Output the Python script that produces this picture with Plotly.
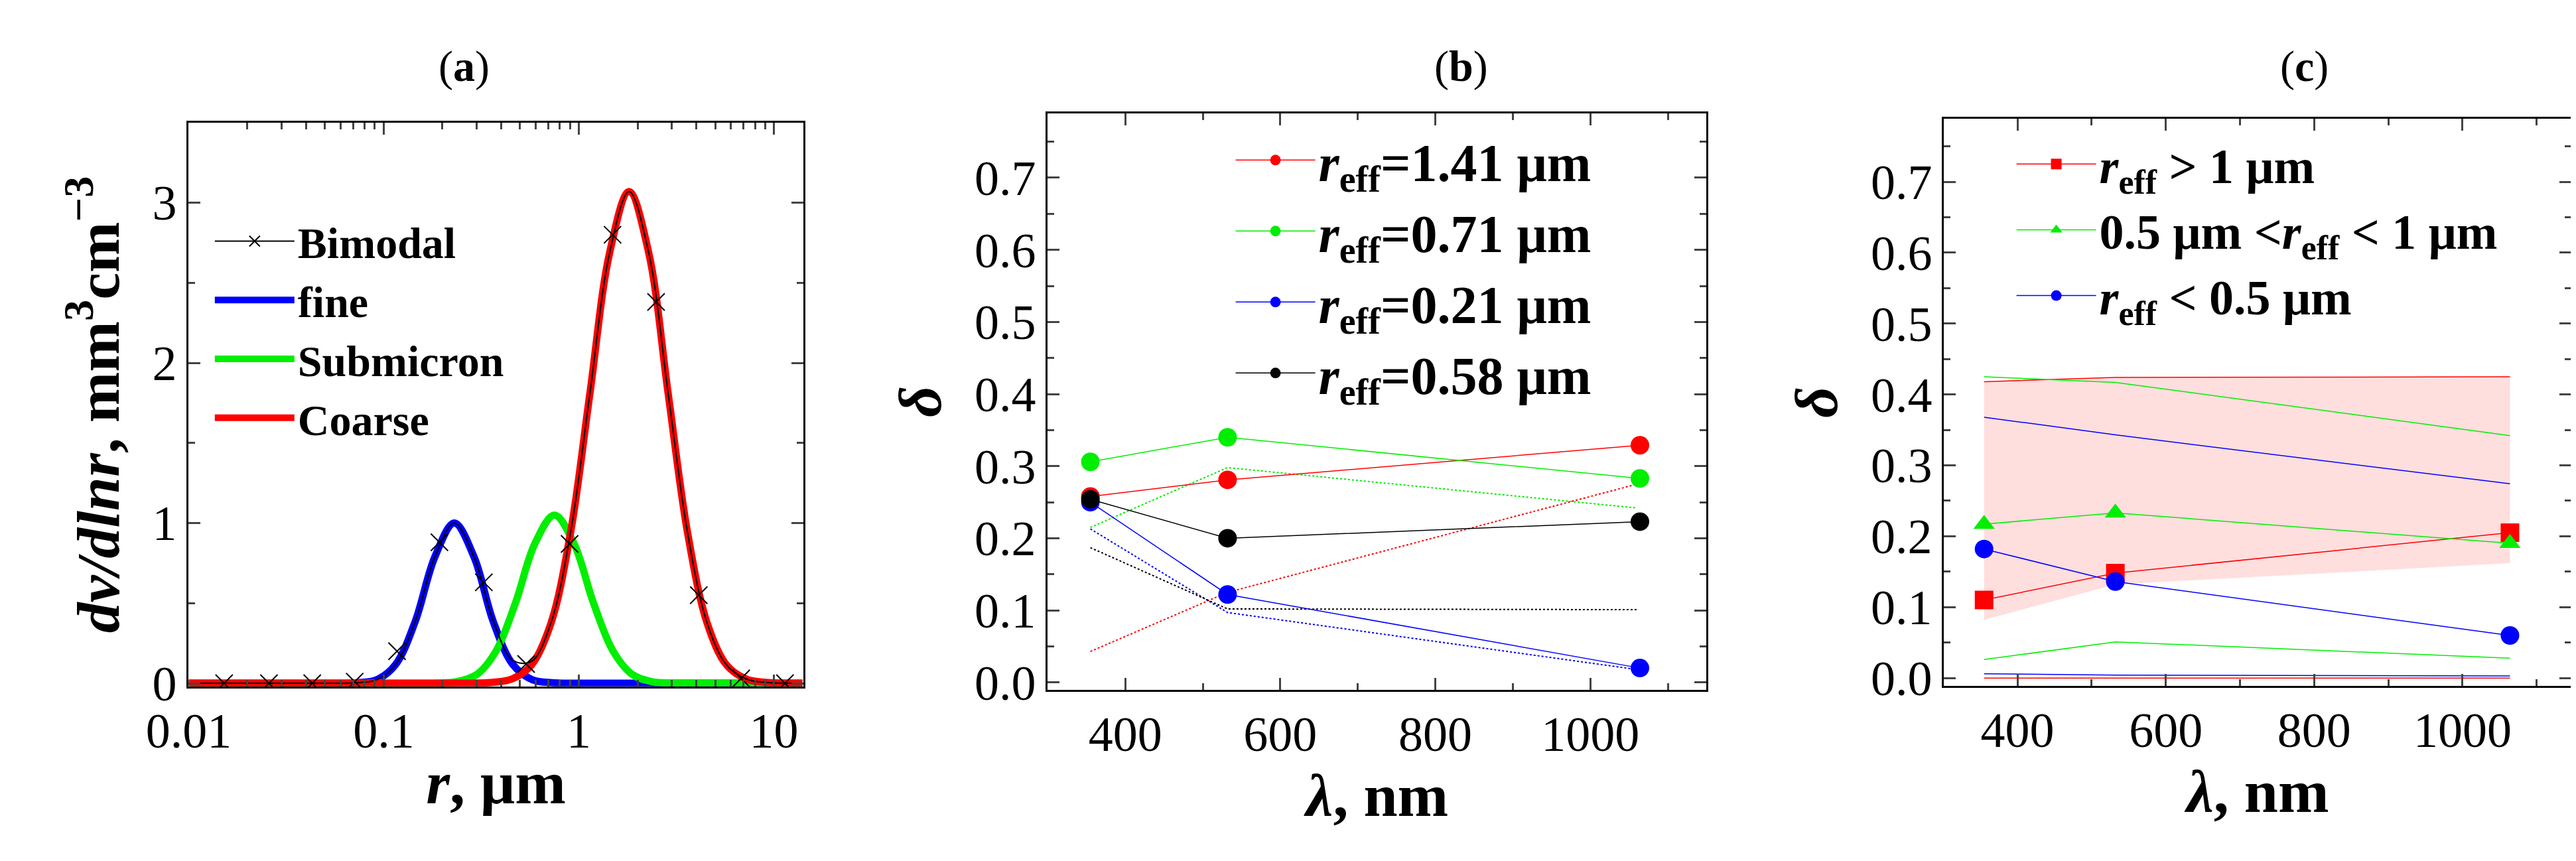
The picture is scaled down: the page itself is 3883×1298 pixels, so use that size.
import plotly.graph_objects as go

# panel (a): size distributions
fine_r = [0.01, 0.05, 0.073, 0.092, 0.115, 0.145, 0.183, 0.23, 0.29, 0.364, 0.459, 0.578, 0.73, 1.0, 14]
fine_v = [0, 0, 0.003, 0.022, 0.117, 0.386, 0.79, 1.0, 0.79, 0.386, 0.117, 0.022, 0.003, 0, 0]
sub_r = [0.01, 0.12, 0.188, 0.237, 0.30, 0.376, 0.473, 0.596, 0.75, 0.944, 1.19, 1.5, 1.88, 2.37, 2.99, 4.5, 14]
sub_v = [0, 0, 0.0014, 0.0103, 0.055, 0.2, 0.5, 0.873, 1.05, 0.873, 0.5, 0.2, 0.055, 0.0103, 0.0014, 0, 0]
coarse_r = [0.01, 0.2, 0.36, 0.455, 0.572, 0.72, 0.907, 1.14, 1.44, 1.81, 2.28, 2.87, 3.61, 4.55, 5.72, 7.2, 9.07, 14]
coarse_v = [0, 0, 0.005, 0.027, 0.114, 0.375, 0.94, 1.81, 2.69, 3.07, 2.69, 1.81, 0.94, 0.375, 0.114, 0.027, 0.005, 0]
bi_line_r = [0.01, 0.05, 0.073, 0.092, 0.115, 0.145, 0.183, 0.23, 0.29, 0.364, 0.459, 0.572, 0.72, 0.907, 1.14, 1.44, 1.81, 2.28, 2.87, 3.61, 4.55, 5.72, 7.2, 9.07, 14]
bi_line_v = [0, 0, 0.003, 0.022, 0.117, 0.386, 0.79, 1.0, 0.79, 0.391, 0.144, 0.136, 0.378, 0.94, 1.81, 2.69, 3.07, 2.69, 1.81, 0.94, 0.375, 0.114, 0.027, 0.005, 0]
bi_mark_r = [0.0152, 0.0258, 0.043, 0.071, 0.117, 0.193, 0.326, 0.537, 0.897, 1.49, 2.49, 4.12, 6.8, 11.4]
bi_mark_v = [0, 0, 0, 0.01, 0.2, 0.88, 0.63, 0.12, 0.87, 2.8, 2.38, 0.55, 0.03, 0]

# panel (b): depolarization vs wavelength
wl = [355, 532, 1064]
b_red = [0.258, 0.281, 0.329]
b_green = [0.306, 0.340, 0.283]
b_blue = [0.250, 0.122, 0.020]
b_black = [0.254, 0.200, 0.223]
wl_dot = [355, 532, 1060]
b_red_dot = [0.043, 0.125, 0.275]
b_green_dot = [0.215, 0.298, 0.242]
b_blue_dot = [0.213, 0.097, 0.018]
b_black_dot = [0.187, 0.102, 0.101]

# panel (c): grouped by effective radius
c_red = [0.11, 0.148, 0.205]
c_green = [0.217, 0.233, 0.19]
c_blue = [0.182, 0.136, 0.06]
c_red_hi = [0.418, 0.424, 0.425]
c_red_lo = [0.0, 0.0, 0.0]
c_green_hi = [0.425, 0.417, 0.342]
c_green_lo = [0.026, 0.051, 0.028]
c_blue_hi = [0.368, 0.343, 0.274]
c_blue_lo = [0.006, 0.004, 0.003]
band_lo = [0.082, 0.132, 0.162]

RED, GREEN, BLUE = "#ff0000", "#00ee00", "#0000ff"
FONT = "Liberation Serif"

fig = go.Figure()

# (a)
for r, v, c, name, rank in [(fine_r, fine_v, BLUE, "fine", 2), (sub_r, sub_v, GREEN, "Submicron", 3),
                            (coarse_r, coarse_v, RED, "Coarse", 4)]:
    fig.add_trace(go.Scatter(x=r, y=v, mode="lines", name="<b>%s</b>" % name, legend="legend", legendrank=rank,
                             line=dict(color=c, width=11, shape="spline"), xaxis="x", yaxis="y"))
fig.add_trace(go.Scatter(x=bi_line_r, y=bi_line_v, mode="lines", line=dict(color="black", width=2, shape="spline"),
                         xaxis="x", yaxis="y", showlegend=False))
fig.add_trace(go.Scatter(x=bi_mark_r, y=bi_mark_v, mode="markers", showlegend=False,
                         marker=dict(symbol="x-thin", size=26, line=dict(color="black", width=2)), xaxis="x", yaxis="y"))
fig.add_trace(go.Scatter(x=[None], y=[None], mode="lines+markers", name="<b>Bimodal</b>", legend="legend",
                         line=dict(color="black", width=2), legendrank=1,
                         marker=dict(symbol="x-thin", size=26, line=dict(color="black", width=2)), xaxis="x", yaxis="y"))

# (b)
for dotted, c in [(b_red_dot, RED), (b_green_dot, GREEN), (b_blue_dot, BLUE), (b_black_dot, "black")]:
    fig.add_trace(go.Scatter(x=wl_dot, y=dotted, mode="lines", line=dict(color=c, width=2, dash="dot"),
                             xaxis="x2", yaxis="y2", showlegend=False))
for i, (vals, c, lab) in enumerate([(b_red, RED, "1.41"), (b_green, GREEN, "0.71"), (b_blue, BLUE, "0.21"),
                                    (b_black, "black", "0.58")]):
    fig.add_trace(go.Scatter(x=wl, y=vals, mode="lines+markers", legend="legend2", legendrank=i + 1,
                             name="<b><i>r</i><sub>eff</sub>=%s μm</b>" % lab,
                             line=dict(color=c, width=1.5), marker=dict(color=c, size=28),
                             xaxis="x2", yaxis="y2"))

# (c)
fig.add_trace(go.Scatter(x=wl, y=band_lo, mode="lines", line=dict(width=0), xaxis="x3", yaxis="y3", showlegend=False))
fig.add_trace(go.Scatter(x=wl, y=c_red_hi, mode="lines", line=dict(width=0), fill="tonexty",
                         fillcolor="rgba(255,0,0,0.13)", xaxis="x3", yaxis="y3", showlegend=False))
for hi, lo, c in [(c_red_hi, c_red_lo, RED), (c_green_hi, c_green_lo, GREEN), (c_blue_hi, c_blue_lo, BLUE)]:
    for vals in (hi, lo):
        fig.add_trace(go.Scatter(x=wl, y=vals, mode="lines", line=dict(color=c, width=1.5),
                                 xaxis="x3", yaxis="y3", showlegend=False))
for i, (vals, c, sym, lab) in enumerate([(c_red, RED, "square", "<b><i>r</i><sub>eff</sub> > 1 μm</b>"),
                                         (c_green, GREEN, "triangle-up", "<b>0.5 μm <<i>r</i><sub>eff</sub> < 1 μm</b>"),
                                         (c_blue, BLUE, "circle", "<b><i>r</i><sub>eff</sub> < 0.5 μm</b>")]):
    fig.add_trace(go.Scatter(x=wl, y=vals, mode="lines+markers", name=lab, legend="legend3", legendrank=i + 1,
                             line=dict(color=c, width=1.5), marker=dict(color=c, size=28, symbol=sym),
                             xaxis="x3", yaxis="y3"))

W, H = 3883, 1298
def px(x0, x1):
    return [x0 / W, x1 / W]
def py(top, bottom):
    return [1 - bottom / H, 1 - top / H]

axcommon = dict(showline=True, linecolor="black", linewidth=3, mirror="allticks", ticks="inside",
                ticklen=18, tickwidth=3, showgrid=False, zeroline=False,
                tickfont=dict(family=FONT, size=74, color="black"))
minor = dict(ticks="inside", ticklen=10, tickwidth=2.5, showgrid=False)
titlefont = dict(family=FONT, size=92, color="black")

fig.update_layout(
    width=W, height=H, paper_bgcolor="white", plot_bgcolor="white",
    margin=dict(l=0, r=0, t=0, b=0), font=dict(family=FONT, color="black"),
    xaxis=dict(axcommon, domain=px(215, 1157), type="log", range=[-2, 1.15],
               tickvals=[0.01, 0.1, 1, 10], ticktext=["0.01", "0.1", "1", "10"],
               minor=dict(minor, dtick="D1"),
               title=dict(text="<b><i>r</i>, μm</b>", font=titlefont, standoff=5)),
    yaxis=dict(axcommon, domain=py(182, 1057), anchor="x", range=[-0.02, 3.5], tickvals=[0, 1, 2, 3],
               minor=dict(minor, dtick=0.5),
               title=dict(text="<b><i>dv/dlnr</i>, mm<sup>3</sup>cm<sup>−3</sup></b>", font=titlefont, standoff=20)),
    xaxis2=dict(axcommon, domain=px(1532, 2542), anchor="y2", range=[300, 1150], dtick=200,
                minor=dict(minor, dtick=100),
                title=dict(text="<b><i>λ</i>, nm</b>", font=titlefont, standoff=5)),
    yaxis2=dict(axcommon, domain=py(168, 1062), anchor="x2", range=[-0.01, 0.789], dtick=0.1, tickformat=".1f",
                minor=dict(minor, dtick=0.05),
                title=dict(text="<b><i>δ</i></b>", font=titlefont, standoff=20)),
    xaxis3=dict(axcommon, domain=px(2906, 3868), anchor="y3", range=[301, 1147], dtick=200,
                minor=dict(minor, dtick=100),
                title=dict(text="<b><i>λ</i>, nm</b>", font=titlefont, standoff=5)),
    yaxis3=dict(axcommon, domain=py(176, 1056), anchor="x3", range=[-0.011, 0.789], dtick=0.1, tickformat=".1f",
                minor=dict(minor, dtick=0.05),
                title=dict(text="<b><i>δ</i></b>", font=titlefont, standoff=20)),
    legend=dict(x=250 / W, y=1 - 315 / H, xanchor="left", yanchor="top", bgcolor="rgba(0,0,0,0)",
                traceorder="normal", font=dict(family=FONT, size=66, color="black"), itemwidth=120),
    legend2=dict(x=1815 / W, y=1 - 180 / H, xanchor="left", yanchor="top", bgcolor="rgba(0,0,0,0)",
                 traceorder="normal", font=dict(family=FONT, size=80, color="black"), itemwidth=120),
    legend3=dict(x=3012 / W, y=1 - 190 / H, xanchor="left", yanchor="top", bgcolor="rgba(0,0,0,0)",
                 traceorder="normal", font=dict(family=FONT, size=74, color="black"), itemwidth=120),
)

for label, xc in [("a", 596), ("b", 2166), ("c", 3498)]:
    fig.add_annotation(text="(<b>%s</b>)" % label, x=xc / W, y=1 - 55 / H, xref="paper", yref="paper",
                       showarrow=False, font=dict(family=FONT, size=66, color="black"))

fig.write_html("out.html")
